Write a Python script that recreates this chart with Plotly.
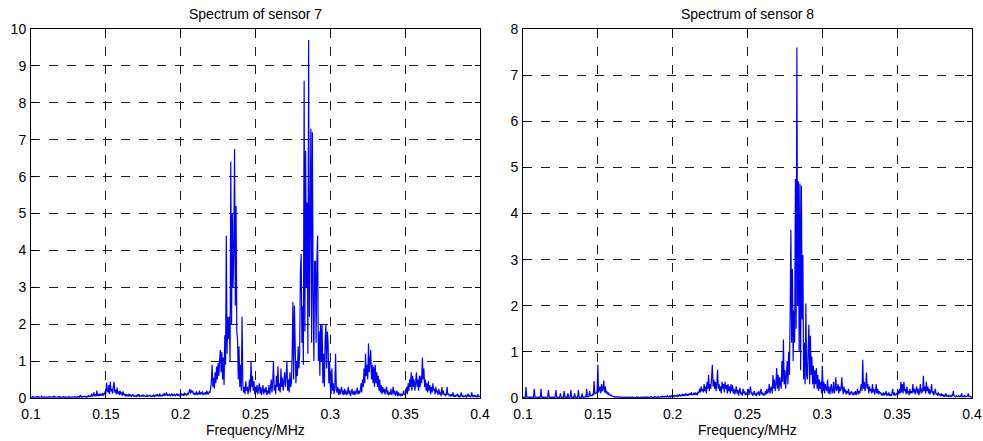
import plotly.graph_objects as go

# Frequency sampling of the spectra (MHz): 0.1 .. 0.4, step 0.0005
F_START = 0.1
F_STEP = 0.0005
N_PTS = 601
freq_mhz = [round(F_START + F_STEP * i, 4) for i in range(N_PTS)]

# Spectrum amplitudes, 20 values per 0.01 MHz
sensor7_amp = [
    0.03,0.02,0.04,0.02,0.03,0.02,0.02,0.03,0.02,0.04,0.02,0.03,0.02,0.02,0.05,0.02,0.03,0.02,0.03,0.02,  # 0.10
    0.02,0.03,0.02,0.02,0.04,0.02,0.03,0.02,0.02,0.03,0.02,0.05,0.02,0.03,0.02,0.02,0.03,0.02,0.04,0.02,  # 0.11
    0.03,0.02,0.02,0.04,0.02,0.03,0.02,0.03,0.02,0.02,0.04,0.02,0.03,0.02,0.02,0.03,0.02,0.02,0.04,0.03,  # 0.12
    0.02,0.03,0.02,0.04,0.03,0.02,0.08,0.03,0.02,0.04,0.03,0.05,0.03,0.04,0.02,0.05,0.03,0.06,0.04,0.05,  # 0.13
    0.04,0.12,0.05,0.06,0.15,0.05,0.08,0.04,0.2,0.06,0.09,0.05,0.12,0.07,0.1,0.06,0.14,0.08,0.1,0.18,     # 0.14
    0.12,0.42,0.2,0.15,0.35,0.1,0.44,0.18,0.25,0.12,0.3,0.44,0.15,0.22,0.1,0.28,0.12,0.18,0.08,0.2,       # 0.15
    0.1,0.15,0.06,0.18,0.08,0.12,0.05,0.1,0.06,0.09,0.04,0.12,0.05,0.08,0.04,0.07,0.1,0.05,0.06,0.04,     # 0.16
    0.06,0.04,0.08,0.05,0.1,0.04,0.06,0.05,0.07,0.04,0.09,0.05,0.06,0.04,0.05,0.08,0.04,0.06,0.05,0.07,   # 0.17
    0.05,0.04,0.07,0.05,0.09,0.04,0.06,0.08,0.05,0.1,0.06,0.05,0.12,0.06,0.07,0.05,0.09,0.06,0.14,0.07,   # 0.18
    0.08,0.15,0.06,0.09,0.07,0.1,0.06,0.08,0.12,0.06,0.09,0.07,0.1,0.06,0.08,0.12,0.07,0.09,0.06,0.1,     # 0.19
    0.07,0.12,0.08,0.1,0.06,0.14,0.09,0.11,0.07,0.12,0.1,0.16,0.24,0.12,0.22,0.15,0.2,0.1,0.14,0.08,      # 0.20
    0.12,0.18,0.08,0.14,0.1,0.2,0.09,0.15,0.11,0.18,0.08,0.13,0.1,0.16,0.09,0.2,0.12,0.1,0.18,0.14,       # 0.21
    0.25,0.45,0.9,0.3,0.55,0.25,0.7,0.4,0.85,0.5,0.95,0.6,1.0,1.3,0.7,1.25,0.5,1.1,0.35,1.7,              # 0.22
    0.9,4.4,1.2,2.2,1.6,2.2,1.0,6.4,2.0,5.0,3.0,4.0,6.75,2.5,5.2,1.8,1.6,0.5,1.4,0.3,                     # 0.23
    0.9,0.2,2.2,0.4,0.15,0.3,0.1,0.45,0.2,0.3,0.1,0.25,0.5,0.15,1.0,0.3,0.6,0.2,0.45,0.1,                 # 0.24
    0.3,0.15,0.35,0.1,0.25,0.4,0.12,0.3,0.08,0.2,0.35,0.1,0.25,0.15,0.3,0.08,0.2,0.12,0.35,0.1,           # 0.25
    0.25,0.5,0.15,0.4,1.0,0.2,0.35,0.1,0.6,0.3,0.86,0.2,0.4,0.15,0.8,0.3,0.55,0.2,0.45,0.7,               # 0.26
    0.3,0.6,1.0,0.2,0.5,0.15,0.7,0.3,0.4,1.2,2.6,0.5,2.5,1.5,0.4,1.0,0.6,1.4,0.8,1.2,                     # 0.27
    3.4,3.9,1.5,2.5,0.9,8.6,1.8,6.7,3.0,5.3,1.2,9.7,2.2,4.8,7.3,1.5,7.2,2.8,1.0,3.7,                      # 0.28
    3.7,1.5,3.7,4.4,1.0,1.8,0.6,2.0,1.0,2.0,0.4,1.2,0.3,1.5,2.0,0.8,1.8,1.5,0.4,1.0,                      # 0.29
    0.3,0.1,0.8,0.2,0.4,0.1,0.3,1.2,0.2,0.15,0.3,0.08,0.25,0.1,0.2,0.3,0.1,0.2,0.08,0.25,                 # 0.30
    0.1,0.2,0.08,0.15,0.3,0.1,0.2,0.06,0.15,0.25,0.1,0.18,0.08,0.2,0.1,0.15,0.28,0.1,0.2,0.12,            # 0.31
    0.2,0.4,0.15,0.5,0.3,0.8,0.4,1.2,0.6,0.9,0.5,1.48,0.7,1.0,1.3,0.5,0.9,0.4,0.85,0.3,                   # 0.32
    0.9,0.4,0.7,0.3,0.6,0.2,0.5,0.15,0.35,0.1,0.3,0.15,0.25,0.1,0.2,0.3,0.1,0.2,0.08,0.15,                # 0.33
    0.1,0.25,0.08,0.15,0.3,0.1,0.2,0.06,0.12,0.2,0.05,0.15,0.08,0.1,0.05,0.12,0.06,0.1,0.2,0.08,          # 0.34
    0.1,0.15,0.3,0.1,0.4,0.2,0.5,0.3,0.7,0.2,0.6,0.3,0.5,0.2,0.4,0.7,0.3,0.5,0.2,0.6,                     # 0.35
    0.3,0.6,0.4,1.1,0.5,0.8,0.3,0.5,0.2,0.4,0.15,0.45,0.2,0.35,0.1,0.3,0.15,0.4,0.2,0.25,                 # 0.36
    0.1,0.3,0.15,0.2,0.08,0.25,0.1,0.15,0.05,0.3,0.1,0.2,0.08,0.12,0.05,0.1,0.3,0.08,0.12,0.05,           # 0.37
    0.08,0.04,0.1,0.05,0.15,0.04,0.06,0.03,0.08,0.05,0.12,0.04,0.06,0.03,0.05,0.15,0.04,0.06,0.03,0.05,   # 0.38
    0.04,0.08,0.03,0.05,0.12,0.04,0.06,0.03,0.05,0.15,0.04,0.06,0.03,0.08,0.04,0.05,0.03,0.1,0.04,0.05,   # 0.39
    0.03,                                                                                                   # 0.40
]

sensor8_amp = [
    0.02,0.01,0.02,0.01,0.24,0.02,0.01,0.02,0.01,0.02,0.01,0.02,0.01,0.02,0.01,0.2,0.02,0.01,0.02,0.01,   # 0.10
    0.02,0.01,0.02,0.01,0.2,0.02,0.01,0.02,0.01,0.02,0.01,0.02,0.01,0.02,0.17,0.02,0.01,0.02,0.01,0.02,   # 0.11
    0.01,0.02,0.01,0.02,0.17,0.02,0.01,0.02,0.01,0.02,0.1,0.02,0.01,0.02,0.01,0.15,0.02,0.01,0.02,0.01,   # 0.12
    0.1,0.02,0.01,0.02,0.17,0.02,0.01,0.02,0.01,0.1,0.02,0.01,0.02,0.01,0.17,0.02,0.01,0.02,0.01,0.1,     # 0.13
    0.02,0.01,0.02,0.03,0.02,0.2,0.03,0.02,0.04,0.15,0.04,0.06,0.05,0.08,0.06,0.37,0.08,0.1,0.12,0.1,     # 0.14
    0.72,0.12,0.18,0.25,0.1,0.3,0.15,0.2,0.38,0.12,0.25,0.1,0.15,0.08,0.12,0.06,0.08,0.05,0.06,0.04,      # 0.15
    0.04,0.03,0.03,0.02,0.03,0.02,0.02,0.03,0.02,0.02,0.01,0.02,0.02,0.01,0.02,0.01,0.02,0.01,0.01,0.02,  # 0.16
    0.01,0.02,0.01,0.01,0.02,0.01,0.02,0.01,0.01,0.02,0.01,0.01,0.02,0.01,0.02,0.01,0.01,0.02,0.01,0.02,  # 0.17
    0.01,0.02,0.01,0.02,0.01,0.03,0.01,0.02,0.01,0.02,0.01,0.03,0.02,0.01,0.02,0.01,0.03,0.02,0.01,0.02,  # 0.18
    0.02,0.03,0.01,0.02,0.03,0.02,0.04,0.02,0.03,0.02,0.04,0.02,0.03,0.05,0.02,0.03,0.04,0.02,0.05,0.03,  # 0.19
    0.04,0.03,0.06,0.03,0.05,0.04,0.07,0.03,0.05,0.08,0.04,0.06,0.05,0.09,0.04,0.07,0.05,0.1,0.06,0.08,   # 0.20
    0.05,0.09,0.06,0.1,0.07,0.12,0.06,0.08,0.1,0.07,0.12,0.08,0.1,0.06,0.14,0.1,0.2,0.12,0.25,0.15,       # 0.21
    0.2,0.12,0.3,0.15,0.25,0.1,0.35,0.2,0.5,0.15,0.3,0.2,0.45,0.72,0.25,0.4,0.2,0.35,0.15,0.3,            # 0.22
    0.61,0.2,0.3,0.15,0.25,0.1,0.35,0.2,0.3,0.12,0.35,0.2,0.28,0.1,0.3,0.15,0.25,0.1,0.3,0.15,            # 0.23
    0.28,0.1,0.2,0.08,0.15,0.25,0.1,0.18,0.05,0.15,0.22,0.08,0.12,0.05,0.2,0.1,0.15,0.06,0.12,0.08,       # 0.24
    0.1,0.2,0.06,0.15,0.25,0.08,0.12,0.05,0.1,0.15,0.06,0.1,0.04,0.12,0.08,0.15,0.05,0.1,0.2,0.08,        # 0.25
    0.12,0.05,0.1,0.06,0.15,0.08,0.2,0.1,0.15,0.3,0.1,0.2,0.25,0.1,0.5,0.2,0.4,0.15,0.3,0.65,             # 0.26
    0.2,0.5,0.15,0.45,0.3,0.2,0.8,0.35,1.27,0.3,0.6,0.2,0.5,0.8,0.3,1.0,0.5,1.85,3.65,1.2,                # 0.27
    2.8,0.8,1.9,1.2,4.75,1.5,7.6,2.0,4.7,1.0,4.65,0.6,4.6,1.7,3.1,0.4,1.2,0.3,2.05,0.5,                   # 0.28
    0.4,1.0,1.59,0.3,1.35,0.5,0.9,0.3,0.7,0.2,0.6,0.3,0.65,0.2,0.5,0.15,0.4,0.2,0.35,0.1,                 # 0.29
    0.7,0.15,0.35,0.1,0.3,0.2,0.15,0.4,0.1,0.25,0.08,0.2,0.3,0.1,0.15,0.35,0.1,0.2,0.45,0.15,             # 0.30
    0.2,0.3,0.1,0.25,0.15,0.2,0.45,0.2,0.08,0.25,0.12,0.18,0.08,0.15,0.1,0.2,0.06,0.12,0.08,0.15,         # 0.31
    0.1,0.06,0.12,0.08,0.15,0.06,0.1,0.2,0.08,0.15,0.1,0.2,0.3,0.15,0.83,0.2,0.35,0.15,0.25,0.55,         # 0.32
    0.2,0.3,0.1,0.25,0.15,0.2,0.1,0.3,0.12,0.2,0.08,0.15,0.3,0.1,0.2,0.08,0.15,0.1,0.12,0.06,             # 0.33
    0.1,0.05,0.12,0.06,0.08,0.15,0.05,0.1,0.06,0.12,0.04,0.08,0.05,0.1,0.2,0.06,0.12,0.05,0.08,0.1,       # 0.34
    0.06,0.15,0.08,0.2,0.1,0.35,0.12,0.3,0.1,0.35,0.15,0.2,0.08,0.25,0.1,0.15,0.06,0.2,0.1,0.15,          # 0.35
    0.1,0.3,0.12,0.2,0.08,0.15,0.25,0.1,0.2,0.06,0.15,0.3,0.1,0.2,0.12,0.48,0.15,0.25,0.1,0.35,           # 0.36
    0.15,0.25,0.1,0.2,0.08,0.15,0.3,0.1,0.15,0.06,0.12,0.2,0.08,0.1,0.05,0.12,0.06,0.08,0.04,0.1,         # 0.37
    0.05,0.08,0.04,0.06,0.03,0.1,0.04,0.05,0.03,0.06,0.04,0.05,0.03,0.06,0.04,0.15,0.05,0.04,0.03,0.05,   # 0.38
    0.04,0.03,0.05,0.03,0.04,0.03,0.1,0.03,0.04,0.03,0.05,0.03,0.04,0.03,0.04,0.1,0.03,0.04,0.03,0.02,    # 0.39
    0.02,                                                                                                   # 0.40
]

titles = ["Spectrum of sensor 7", "Spectrum of sensor 8"]
x_title = "Frequency/MHz"
x_ticks = [0.1, 0.15, 0.2, 0.25, 0.3, 0.35, 0.4]
x_tick_text = ["0.1", "0.15", "0.2", "0.25", "0.3", "0.35", "0.4"]
y7_ticks = list(range(0, 11))
y8_ticks = list(range(0, 9))

W, H = 983, 441
FONT = "Liberation Sans, Arial, sans-serif"

fig = go.Figure()
fig.add_trace(go.Scatter(x=freq_mhz, y=sensor7_amp, mode="lines",
                         line=dict(color="#0000FF", width=1.2, simplify=False),
                         xaxis="x", yaxis="y"))
fig.add_trace(go.Scatter(x=freq_mhz, y=sensor8_amp, mode="lines",
                         line=dict(color="#0000FF", width=1.2, simplify=False),
                         xaxis="x2", yaxis="y2"))

# plot boxes in pixels
L1, R1 = 31, 480
L2, R2 = 523, 972
TOP, BOT = 29, 398
ydom = [(H - BOT) / H, (H - TOP) / H]

axis_common = dict(
    showline=True, linecolor="black", linewidth=1, mirror="allticks",
    ticks="inside", ticklen=5, tickcolor="black", automargin=False,
    showgrid=True, gridcolor="#1a1a1a", gridwidth=1, griddash="dash",
    zeroline=False, tickfont=dict(family=FONT, size=14, color="black"),
)

fig.update_layout(
    width=W, height=H,
    margin=dict(l=0, r=0, t=0, b=0),
    paper_bgcolor="white", plot_bgcolor="white",
    showlegend=False,
    xaxis=dict(domain=[L1 / W, R1 / W], range=[0.1, 0.4], tickvals=x_ticks,
               ticktext=x_tick_text, anchor="y", ticklabelstandoff=3, **axis_common),
    yaxis=dict(domain=ydom, range=[0, 10], tickvals=y7_ticks, anchor="x",
               ticklabelstandoff=1, **axis_common),
    xaxis2=dict(domain=[L2 / W, R2 / W], range=[0.1, 0.4], tickvals=x_ticks,
                ticktext=x_tick_text, anchor="y2", ticklabelstandoff=3, **axis_common),
    yaxis2=dict(domain=ydom, range=[0, 8], tickvals=y8_ticks, anchor="x2",
                ticklabelstandoff=1, **axis_common),
)

for i, (l, r) in enumerate([(L1, R1), (L2, R2)]):
    xc = (l + r) / 2 / W
    fig.add_annotation(x=xc, y=(H - 14) / H, xref="paper", yref="paper",
                       text=titles[i], showarrow=False,
                       font=dict(family=FONT, size=14, color="black"),
                       xanchor="center", yanchor="middle")
    fig.add_annotation(x=xc, y=(H - 430) / H, xref="paper", yref="paper",
                       text=x_title, showarrow=False,
                       font=dict(family=FONT, size=14, color="black"),
                       xanchor="center", yanchor="middle")

fig.write_html("out.html")
